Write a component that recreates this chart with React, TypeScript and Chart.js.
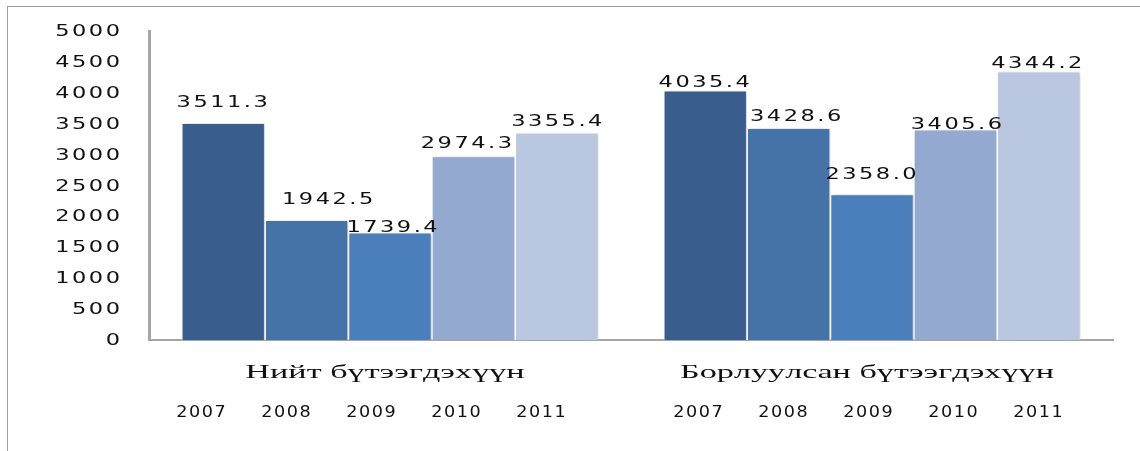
import { useEffect, useRef } from "react";
import { Chart, registerables } from "chart.js";

Chart.register(...registerables);

// ---- data ----
const categories = ["Нийт бүтээгдэхүүн", "Борлуулсан бүтээгдэхүүн"];
const years = ["2007", "2008", "2009", "2010", "2011"];
const values2007 = [3511.3, 4035.4];
const values2008 = [1942.5, 3428.6];
const values2009 = [1739.4, 2358.0];
const values2010 = [2974.3, 3405.6];
const values2011 = [3355.4, 4344.2];
const yMin = 0;
const yMax = 5000;
const yStep = 500;

// ---- styling ----
const barColors = ["#395d8c", "#4572a7", "#4b7fbc", "#93a9cf", "#b9c7e1"];
// label nudges (px) as placed in the original picture: [dataset][category]
const labelDx = [[-1, -1], [21, 7], [2, -1], [-7, 1], [0, -2]];
const labelGap = [[16, 4], [16, 7], [1, 15], [8, 1], [7, 4]];
const yearsShift = [-19, -4];
const titleShift = [-5, -5];

// draws text horizontally stretched by sx, with an extra gap between glyphs
function drawWide(
  ctx: CanvasRenderingContext2D,
  text: string,
  x: number,
  y: number,
  font: string,
  sx: number,
  gap: number,
  align: "left" | "center" | "right"
) {
  ctx.save();
  ctx.font = font;
  (ctx as any).letterSpacing = "0px";
  ctx.textAlign = "left";
  ctx.textBaseline = "alphabetic";
  ctx.fillStyle = "#111111";
  const chars = Array.from(text);
  const widths = chars.map((c) => ctx.measureText(c).width * sx);
  const total = widths.reduce((a, b) => a + b, 0) + gap * Math.max(0, chars.length - 1);
  let px = x;
  if (align === "center") px = x - total / 2;
  else if (align === "right") px = x - total;
  chars.forEach((c, k) => {
    ctx.save();
    ctx.translate(px, y);
    ctx.scale(sx, 1);
    ctx.fillText(c, 0, 0);
    ctx.restore();
    px += widths[k] + gap;
  });
  ctx.restore();
}

const NUM_FONT = "15px 'DejaVu Sans'";
const NUM_SX = 1.5;
const NUM_GAP = 2.5;

const textPlugin = {
  id: "wideTexts",
  beforeDatasetsDraw(chart: any) {
    const ctx = chart.ctx;
    ctx.save();
    ctx.shadowColor = "rgba(0,0,0,0.22)";
    ctx.shadowBlur = 3;
    ctx.shadowOffsetX = 2;
    ctx.shadowOffsetY = 0;
  },
  afterDatasetsDraw(chart: any) {
    const ctx = chart.ctx;
    ctx.restore();
    chart.data.datasets.forEach((ds: any, i: number) => {
      const meta = chart.getDatasetMeta(i);
      meta.data.forEach((bar: any, j: number) => {
        const v = ds.data[j] as number;
        drawWide(
          ctx,
          v.toFixed(1),
          bar.x + labelDx[i][j],
          bar.y - labelGap[i][j],
          NUM_FONT,
          NUM_SX,
          NUM_GAP,
          "center"
        );
      });
    });
  },
  afterDraw(chart: any) {
    const ctx = chart.ctx;
    const yScale = chart.scales.y;
    const xScale = chart.scales.x;
    yScale.ticks.forEach((t: any) => {
      const py = yScale.getPixelForValue(t.value);
      drawWide(ctx, String(t.value), 120, py + 5, NUM_FONT, NUM_SX, NUM_GAP, "right");
    });
    categories.forEach((cat, j) => {
      const cx = xScale.getPixelForValue(j);
      drawWide(ctx, cat, cx + titleShift[j], 378, "19px 'Liberation Serif'", 1.8, 0, "center");
      const yc = cx + yearsShift[j];
      years.forEach((yr, k) => {
        drawWide(ctx, yr, yc + (k - 2) * 85, 417, "16px 'DejaVu Sans'", 1.1, 1.5, "center");
      });
    });
  },
};

export default function App() {
  const canvasRef = useRef<HTMLCanvasElement | null>(null);

  useEffect(() => {
    if (!canvasRef.current) return;
    const series = [values2007, values2008, values2009, values2010, values2011];
    const chart = new Chart(canvasRef.current, {
      type: "bar",
      data: {
        labels: categories,
        datasets: years.map((yr, i) => ({
          label: yr,
          data: series[i],
          backgroundColor: barColors[i],
          borderColor: "rgba(255,255,255,0.9)",
          borderWidth: 1,
          barPercentage: 1,
          categoryPercentage: 0.865,
        })),
      },
      options: {
        responsive: false,
        animation: false,
        maintainAspectRatio: false,
        layout: { padding: { top: 31, right: 27, left: 0, bottom: 0 } },
        plugins: {
          legend: { display: false },
          tooltip: { enabled: false },
        },
        scales: {
          x: {
            grid: { display: false },
            border: { display: true, color: "#a6a6a6", width: 2 },
            ticks: { display: false },
            afterFit: (s: any) => {
              s.height = 111;
            },
          },
          y: {
            min: yMin,
            max: yMax,
            ticks: { stepSize: yStep, display: false },
            grid: { display: false },
            border: { display: true, color: "#a6a6a6", width: 3 },
            afterFit: (s: any) => {
              s.width = 149;
            },
          },
        },
      },
      plugins: [textPlugin],
    });
    return () => chart.destroy();
  }, []);

  return (
    <div style={{ position: "absolute", left: 0, top: 0, width: 1140, height: 451, background: "#fff", overflow: "hidden" }}>
      <div
        style={{
          position: "absolute",
          left: 7,
          top: 6,
          width: 1200,
          height: 500,
          borderLeft: "1px solid #a0a0a0",
          borderTop: "1px solid #a0a0a0",
        }}
      />
      <canvas
        ref={canvasRef}
        width={1140}
        height={451}
        style={{ position: "absolute", left: 0, top: 0, width: 1140, height: 451 }}
      />
    </div>
  );
}
